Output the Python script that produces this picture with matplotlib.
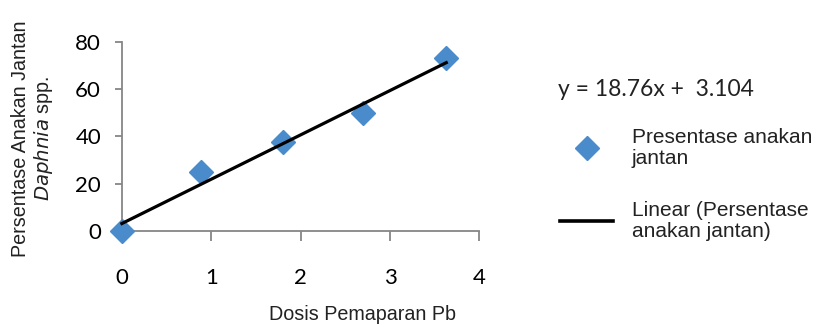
import matplotlib.pyplot as plt
from matplotlib.lines import Line2D

# data
dosis = [0, 0.88, 1.8, 2.7, 3.63]
persen_jantan = [0, 25, 37.5, 50, 73]
slope = 18.76
intercept = 3.104
x_ticks = [0, 1, 2, 3, 4]
y_ticks = [0, 20, 40, 60, 80]

fig = plt.figure(figsize=(8.18, 3.27), dpi=100)
ax = fig.add_axes([0.149, 0.294, 0.437, 0.578])

biru = '#4a8ccb'
abu = '#868686'

# garis regresi
x_line = [dosis[0], dosis[-1]]
y_line = [slope * x + intercept for x in x_line]
ax.plot(dosis, persen_jantan, linestyle='none', marker='D', ms=12.5,
        color=biru, clip_on=False, zorder=3)
ax.plot(x_line, y_line, color='black', lw=2.3, clip_on=False, zorder=4)

ax.set_xlim(0, 4)
ax.set_ylim(0, 80)
ax.set_xticks(x_ticks)
ax.set_yticks(y_ticks)

for s in ['top', 'right']:
    ax.spines[s].set_visible(False)
for s in ['left', 'bottom']:
    ax.spines[s].set_color(abu)
    ax.spines[s].set_linewidth(1.3)

ax.tick_params(axis='x', direction='out', length=7, width=1.3, color=abu,
               pad=20, labelsize=16)
ax.tick_params(axis='y', direction='out', length=5, width=1.3, color=abu,
               pad=10, labelsize=16)
for lab in ax.get_xticklabels() + ax.get_yticklabels():
    lab.set_fontfamily('Lato')

# label sumbu
fig.text(0.443, 0.008, 'Dosis Pemaparan Pb', ha='center', va='bottom',
         fontsize=14.2, family='Liberation Sans', color='#222222')
fig.text(0.025, 0.575, 'Persentase Anakan Jantan', rotation=90, ha='center',
         va='center', fontsize=14.2, family='Liberation Sans', color='#222222')
fig.text(0.053, 0.578, r'$\it{Daphnia}$' + ' spp.', rotation=90, ha='center',
         va='center', fontsize=14.2, family='Liberation Sans', color='#222222')

# persamaan
fig.text(0.682, 0.725, 'y = 18.76x +  3.104', ha='left', va='center',
         fontsize=16.5, family='Lato', color='#222222')

# legenda
handles = [
    Line2D([], [], linestyle='none', marker='D', ms=12.5, color=biru),
    Line2D([], [], color='black', lw=2.6),
]
labels = ['Presentase anakan\njantan', 'Linear (Persentase\nanakan jantan)']
leg = fig.legend(handles, labels, loc='upper left', bbox_to_anchor=(0.6846, 0.608),
                 frameon=False, borderpad=0, borderaxespad=0,
                 prop={'family': 'Liberation Sans', 'size': 15},
                 handlelength=2.55, handletextpad=0.9, labelspacing=1.6)
for t in leg.get_texts():
    t.set_color('#222222')
    t.set_linespacing(1.12)

fig.savefig('out.png', dpi=100)
